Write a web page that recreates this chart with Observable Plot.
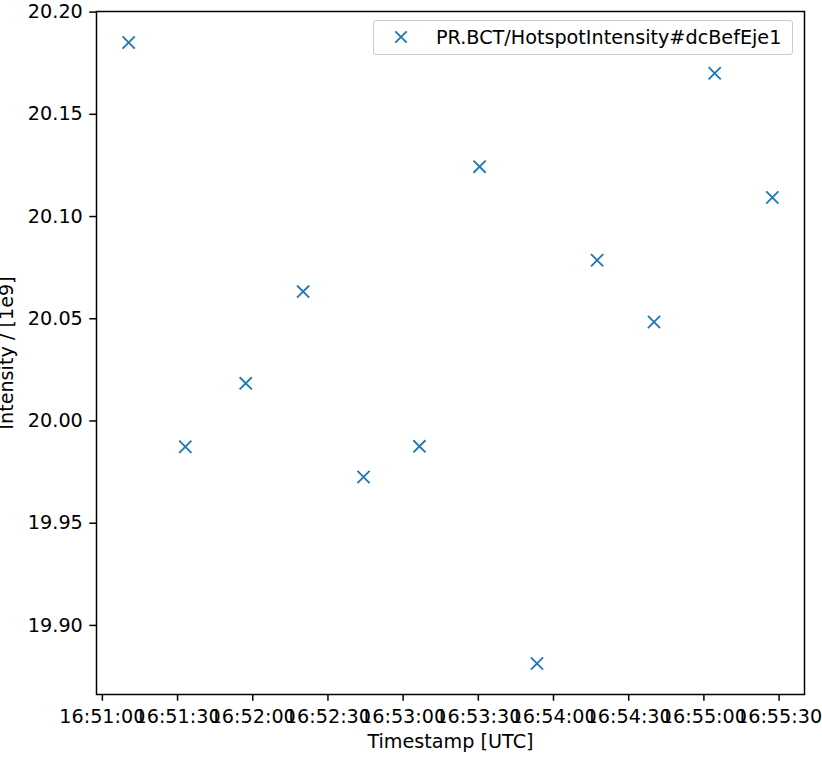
<!DOCTYPE html>
<html>
<head>
<meta charset="utf-8">
<script src="https://cdn.jsdelivr.net/npm/d3@7"></script>
<script src="https://cdn.jsdelivr.net/npm/@observablehq/plot@0.6"></script>
<style>
  html, body { margin: 0; padding: 0; background: white; }
  #wrap { position: relative; width: 822px; height: 757px; font-family: "DejaVu Sans", sans-serif; overflow: hidden; }
  #legend {
    position: absolute; left: 373px; top: 20px; width: 420px; height: 35px;
    border: 1px solid #cccccc; border-radius: 3px; background: rgba(255,255,255,0.8);
    box-sizing: border-box; font-size: 19.2px; color: black;
  }
  #legend svg { position: absolute; left: 20px; top: 9px; }
  #legend span { position: absolute; left: 62px; top: 5px; white-space: nowrap; }
</style>
</head>
<body>
<div id="wrap"></div>
<script>
// Data
const seriesName = "PR.BCT/HotspotIntensity#dcBefEje1";
const timestamps = ["16:51:10.5", "16:51:33.1", "16:51:57.2", "16:52:20.1", "16:52:44.2", "16:53:06.5",
                    "16:53:30.5", "16:53:53.4", "16:54:17.4", "16:54:40.1", "16:55:04.3", "16:55:27.3"];
const intensities = [20.1851, 19.9874, 20.0184, 20.0633, 19.9726, 19.9876,
                     20.1244, 19.8814, 20.0786, 20.0484, 20.1701, 20.1093];
const xTickLabels = ["16:51:00", "16:51:30", "16:52:00", "16:52:30", "16:53:00",
                     "16:53:30", "16:54:00", "16:54:30", "16:55:00", "16:55:30"];
const yTickValues = [19.90, 19.95, 20.00, 20.05, 20.10, 20.15, 20.20];
const day = "2023-01-01";

const toDate = s => new Date(`${day}T${s}Z`);
const data = timestamps.map((t, i) => ({t: toDate(t), v: intensities[i]}));
const xTicks = xTickLabels.map(toDate);

// matplotlib-style 5% margins
function padded(ext) { const m = (ext[1] - ext[0]) * 0.05; return [ext[0] - m, ext[1] + m]; }
const xe = padded(d3.extent(data, d => +d.t));
const ye = padded(d3.extent(data, d => d.v));

const chart = Plot.plot({
  width: 822,
  height: 757,
  marginLeft: 96,
  marginRight: 18,
  marginTop: 11,
  marginBottom: 63,
  style: {fontFamily: "DejaVu Sans", fontSize: "19.2px", color: "black", background: "white", overflow: "visible"},
  x: {type: "utc", domain: [new Date(xe[0]), new Date(xe[1])]},
  y: {domain: ye},
  marks: [
    Plot.axisX({ticks: xTicks, tickFormat: d3.utcFormat("%H:%M:%S"), tickSize: 6.7, tickPadding: 8.5,
                strokeWidth: 1.5, strokeOpacity: 1, label: "Timestamp [UTC]", labelAnchor: "center",
                labelArrow: "none", labelOffset: 53}),
    Plot.axisY({ticks: yTickValues, tickFormat: d3.format(".2f"), tickSize: 6.7, tickPadding: 7,
                strokeWidth: 1.5, strokeOpacity: 1, label: "Intensity / [1e9]", labelAnchor: "center",
                labelArrow: "none", labelOffset: 97}),
    Plot.frame({stroke: "black", strokeWidth: 1.5}),
    Plot.dot(data, {x: "t", y: "v", symbol: "times", r: 5.6, stroke: "#1f77b4", strokeWidth: 1.85})
  ]
});

const wrap = document.getElementById("wrap");
wrap.appendChild(chart);

const legend = document.createElement("div");
legend.id = "legend";
legend.innerHTML = `<svg width="14" height="14" viewBox="-7 -7 14 14"><path d="M-5.7,-5.7L5.7,5.7M-5.7,5.7L5.7,-5.7" stroke="#1f77b4" stroke-width="1.85"/></svg><span></span>`;
legend.querySelector("span").textContent = seriesName;
wrap.appendChild(legend);
</script>
</body>
</html>
